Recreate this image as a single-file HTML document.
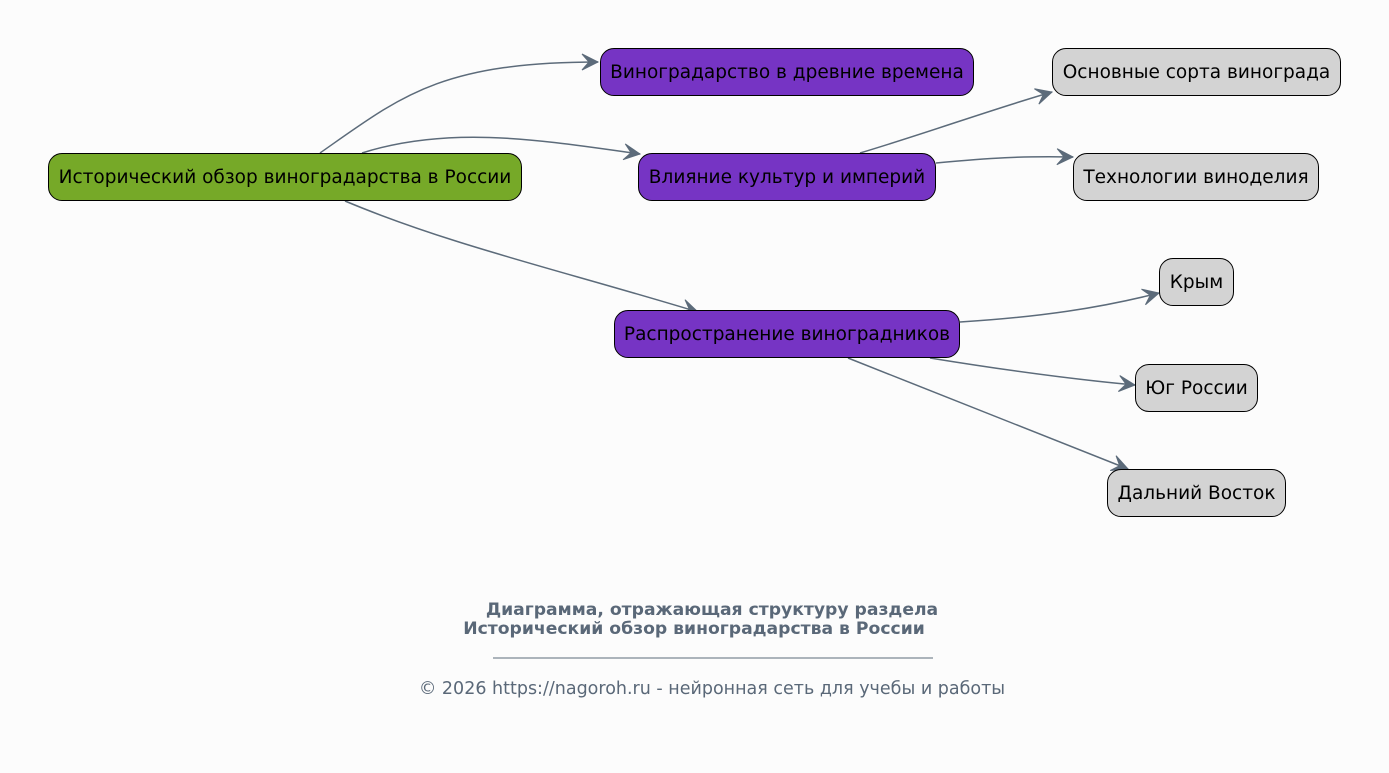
<!DOCTYPE html>
<html><head><meta charset="utf-8"><style>
html,body{margin:0;padding:0;background:#fcfcfc;}
body{width:1389px;height:773px;position:relative;overflow:hidden;font-family:"DejaVu Sans","Liberation Sans",sans-serif;}
.n{position:absolute;box-sizing:border-box;border:1px solid #000;border-radius:14px;display:flex;align-items:center;justify-content:center;font-size:18.5px;color:#000;white-space:nowrap;height:48px;}
.g{background:#76a928;}
.p{background:#7634c4;}
.s{background:#d3d3d3;}
.cap{position:absolute;width:1000px;text-align:center;color:#5a6878;white-space:nowrap;}
</style></head><body>
<svg width="1389" height="773" style="position:absolute;left:0;top:0">
<defs><marker id="a" markerWidth="22" markerHeight="18" refX="18" refY="9" orient="auto" markerUnits="userSpaceOnUse"><path d="M2,1 L18,9 L2,17 L9,9 Z" fill="#5c6b7a" stroke="#5c6b7a" stroke-width="1"/></marker></defs>
<g fill="none" stroke="#5c6b7a" stroke-width="1.5" marker-end="url(#a)">
<path d="M320,153 C400,97 440,62 598,62"/>
<path d="M362,153 C450,125 540,140 640,154"/>
<path d="M345,201 C450,245 560,270 698,312"/>
<path d="M860,153 C930,132 990,110 1052,92"/>
<path d="M936,163 C990,158 1020,156 1073,157"/>
<path d="M960,322 C1040,317 1100,308 1159,293"/>
<path d="M930,358 C1010,371 1080,380 1135,385"/>
<path d="M848,358 L1128,469"/>
</g>
<line x1="493" y1="658" x2="933" y2="658" stroke="#5c6b7a" stroke-width="1"/>
</svg>
<div class="n g" style="left:48px;top:153px;width:474px">Исторический обзор виноградарства в России</div>
<div class="n p" style="left:600px;top:48px;width:374px">Виноградарство в древние времена</div>
<div class="n p" style="left:638px;top:153px;width:298px">Влияние культур и империй</div>
<div class="n p" style="left:614px;top:310px;width:346px">Распространение виноградников</div>
<div class="n s" style="left:1052px;top:48px;width:289px">Основные сорта винограда</div>
<div class="n s" style="left:1073px;top:153px;width:246px">Технологии виноделия</div>
<div class="n s" style="left:1159px;top:258px;width:75px">Крым</div>
<div class="n s" style="left:1135px;top:364px;width:123px">Юг России</div>
<div class="n s" style="left:1107px;top:469px;width:179px">Дальний Восток</div>
<div class="cap" style="left:212px;top:601px;font-weight:bold;font-size:17.2px;line-height:19px">Диаграмма, отражающая структуру раздела</div>
<div class="cap" style="left:194px;top:620px;font-weight:bold;font-size:17.2px;line-height:19px">Исторический обзор виноградарства в России</div>
<div class="cap" style="left:212px;top:679px;font-size:17.5px">© 2026 https://nagoroh.ru - нейронная сеть для учебы и работы</div>
</body></html>
